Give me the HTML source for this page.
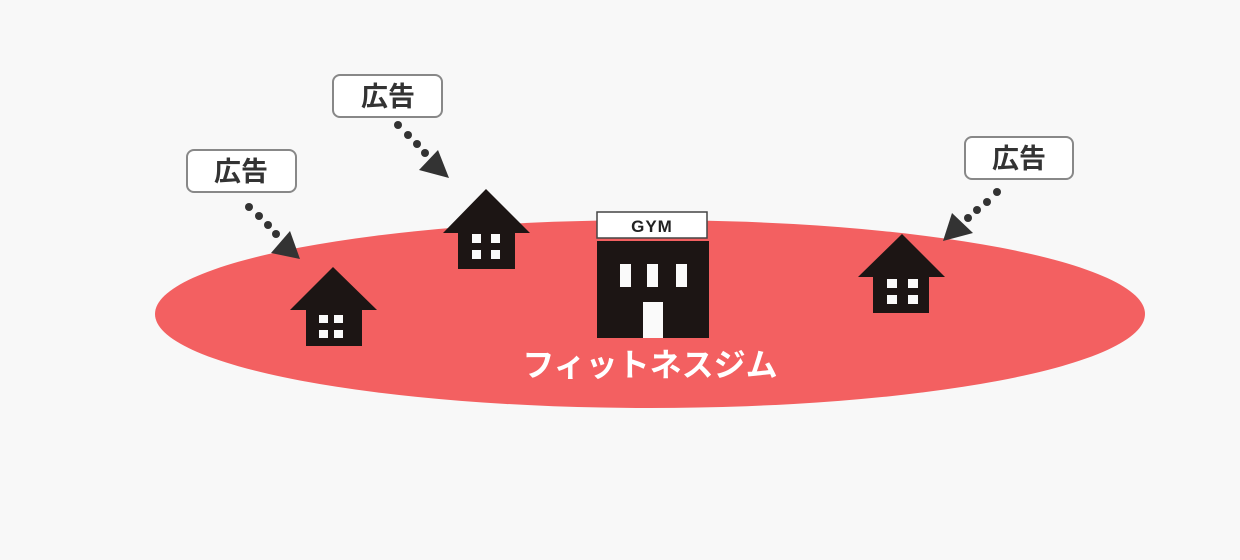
<!DOCTYPE html>
<html><head><meta charset="utf-8"><style>
html,body{margin:0;padding:0;background:#f8f8f8;}
</style></head><body>
<svg width="1240" height="560" xmlns="http://www.w3.org/2000/svg" style="display:block">
<rect width="1240" height="560" fill="#f8f8f8"/>
<ellipse cx="650" cy="314" rx="495" ry="94" fill="#f36061"/>
<g fill="#1c1514">
<polygon points="290,310 333,267 377,310"/><rect x="306" y="309" width="56" height="37"/>
<polygon points="443,233 486,189 530,233"/><rect x="458" y="232" width="57" height="37"/>
<polygon points="858,277 902,234 945,277"/><rect x="873" y="276" width="56" height="37"/>
<rect x="597" y="241" width="112" height="97"/>
</g>
<g fill="#fafafa">
<rect x="319" y="315" width="9" height="8"/><rect x="334" y="315" width="9" height="8"/>
<rect x="319" y="330" width="9" height="8"/><rect x="334" y="330" width="9" height="8"/>
<rect x="472" y="234" width="9" height="9"/><rect x="491" y="234" width="9" height="9"/>
<rect x="472" y="250" width="9" height="9"/><rect x="491" y="250" width="9" height="9"/>
<rect x="887" y="279" width="10" height="9"/><rect x="908" y="279" width="10" height="9"/>
<rect x="887" y="295" width="10" height="9"/><rect x="908" y="295" width="10" height="9"/>
<rect x="620" y="264" width="11" height="23"/><rect x="647" y="264" width="11" height="23"/><rect x="676" y="264" width="11" height="23"/>
<rect x="643" y="302" width="20" height="36"/>
</g>
<rect x="597" y="212" width="110" height="26" fill="#fff" stroke="#444" stroke-width="1.5"/>
<text x="652" y="232" text-anchor="middle" font-family="Liberation Sans, sans-serif" font-weight="bold" font-size="17" fill="#222" letter-spacing="1">GYM</text>
<g fill="#fff" stroke="#888" stroke-width="2">
<rect x="187" y="150" width="109" height="42" rx="7"/>
<rect x="333" y="75" width="109" height="42" rx="7"/>
<rect x="965" y="137" width="108" height="42" rx="7"/>
</g>
<g font-family="Liberation Sans, Noto Sans CJK JP, sans-serif" font-weight="bold" font-size="27" fill="#333" text-anchor="middle">
<text x="241" y="181">広告</text>
<text x="388" y="106">広告</text>
<text x="1019" y="168">広告</text>
</g>
<g fill="#333">
<circle cx="249" cy="207" r="4"/><circle cx="259" cy="216" r="4"/><circle cx="268" cy="225" r="4"/><circle cx="276" cy="234" r="4"/>
<polygon points="271,253 290,231 300,259"/>
<circle cx="398" cy="125" r="4"/><circle cx="408" cy="135" r="4"/><circle cx="417" cy="144" r="4"/><circle cx="425" cy="153" r="4"/>
<polygon points="419,170 438,150 449,178"/>
<circle cx="997" cy="192" r="4"/><circle cx="987" cy="202" r="4"/><circle cx="977" cy="210" r="4"/><circle cx="968" cy="218" r="4"/>
<polygon points="952,213 973,233 943,241"/>
</g>
<text x="650" y="376" text-anchor="middle" font-family="Liberation Sans, Noto Sans CJK JP, sans-serif" font-weight="bold" font-size="32" fill="#fff">フィットネスジム</text>
</svg>
</body></html>
